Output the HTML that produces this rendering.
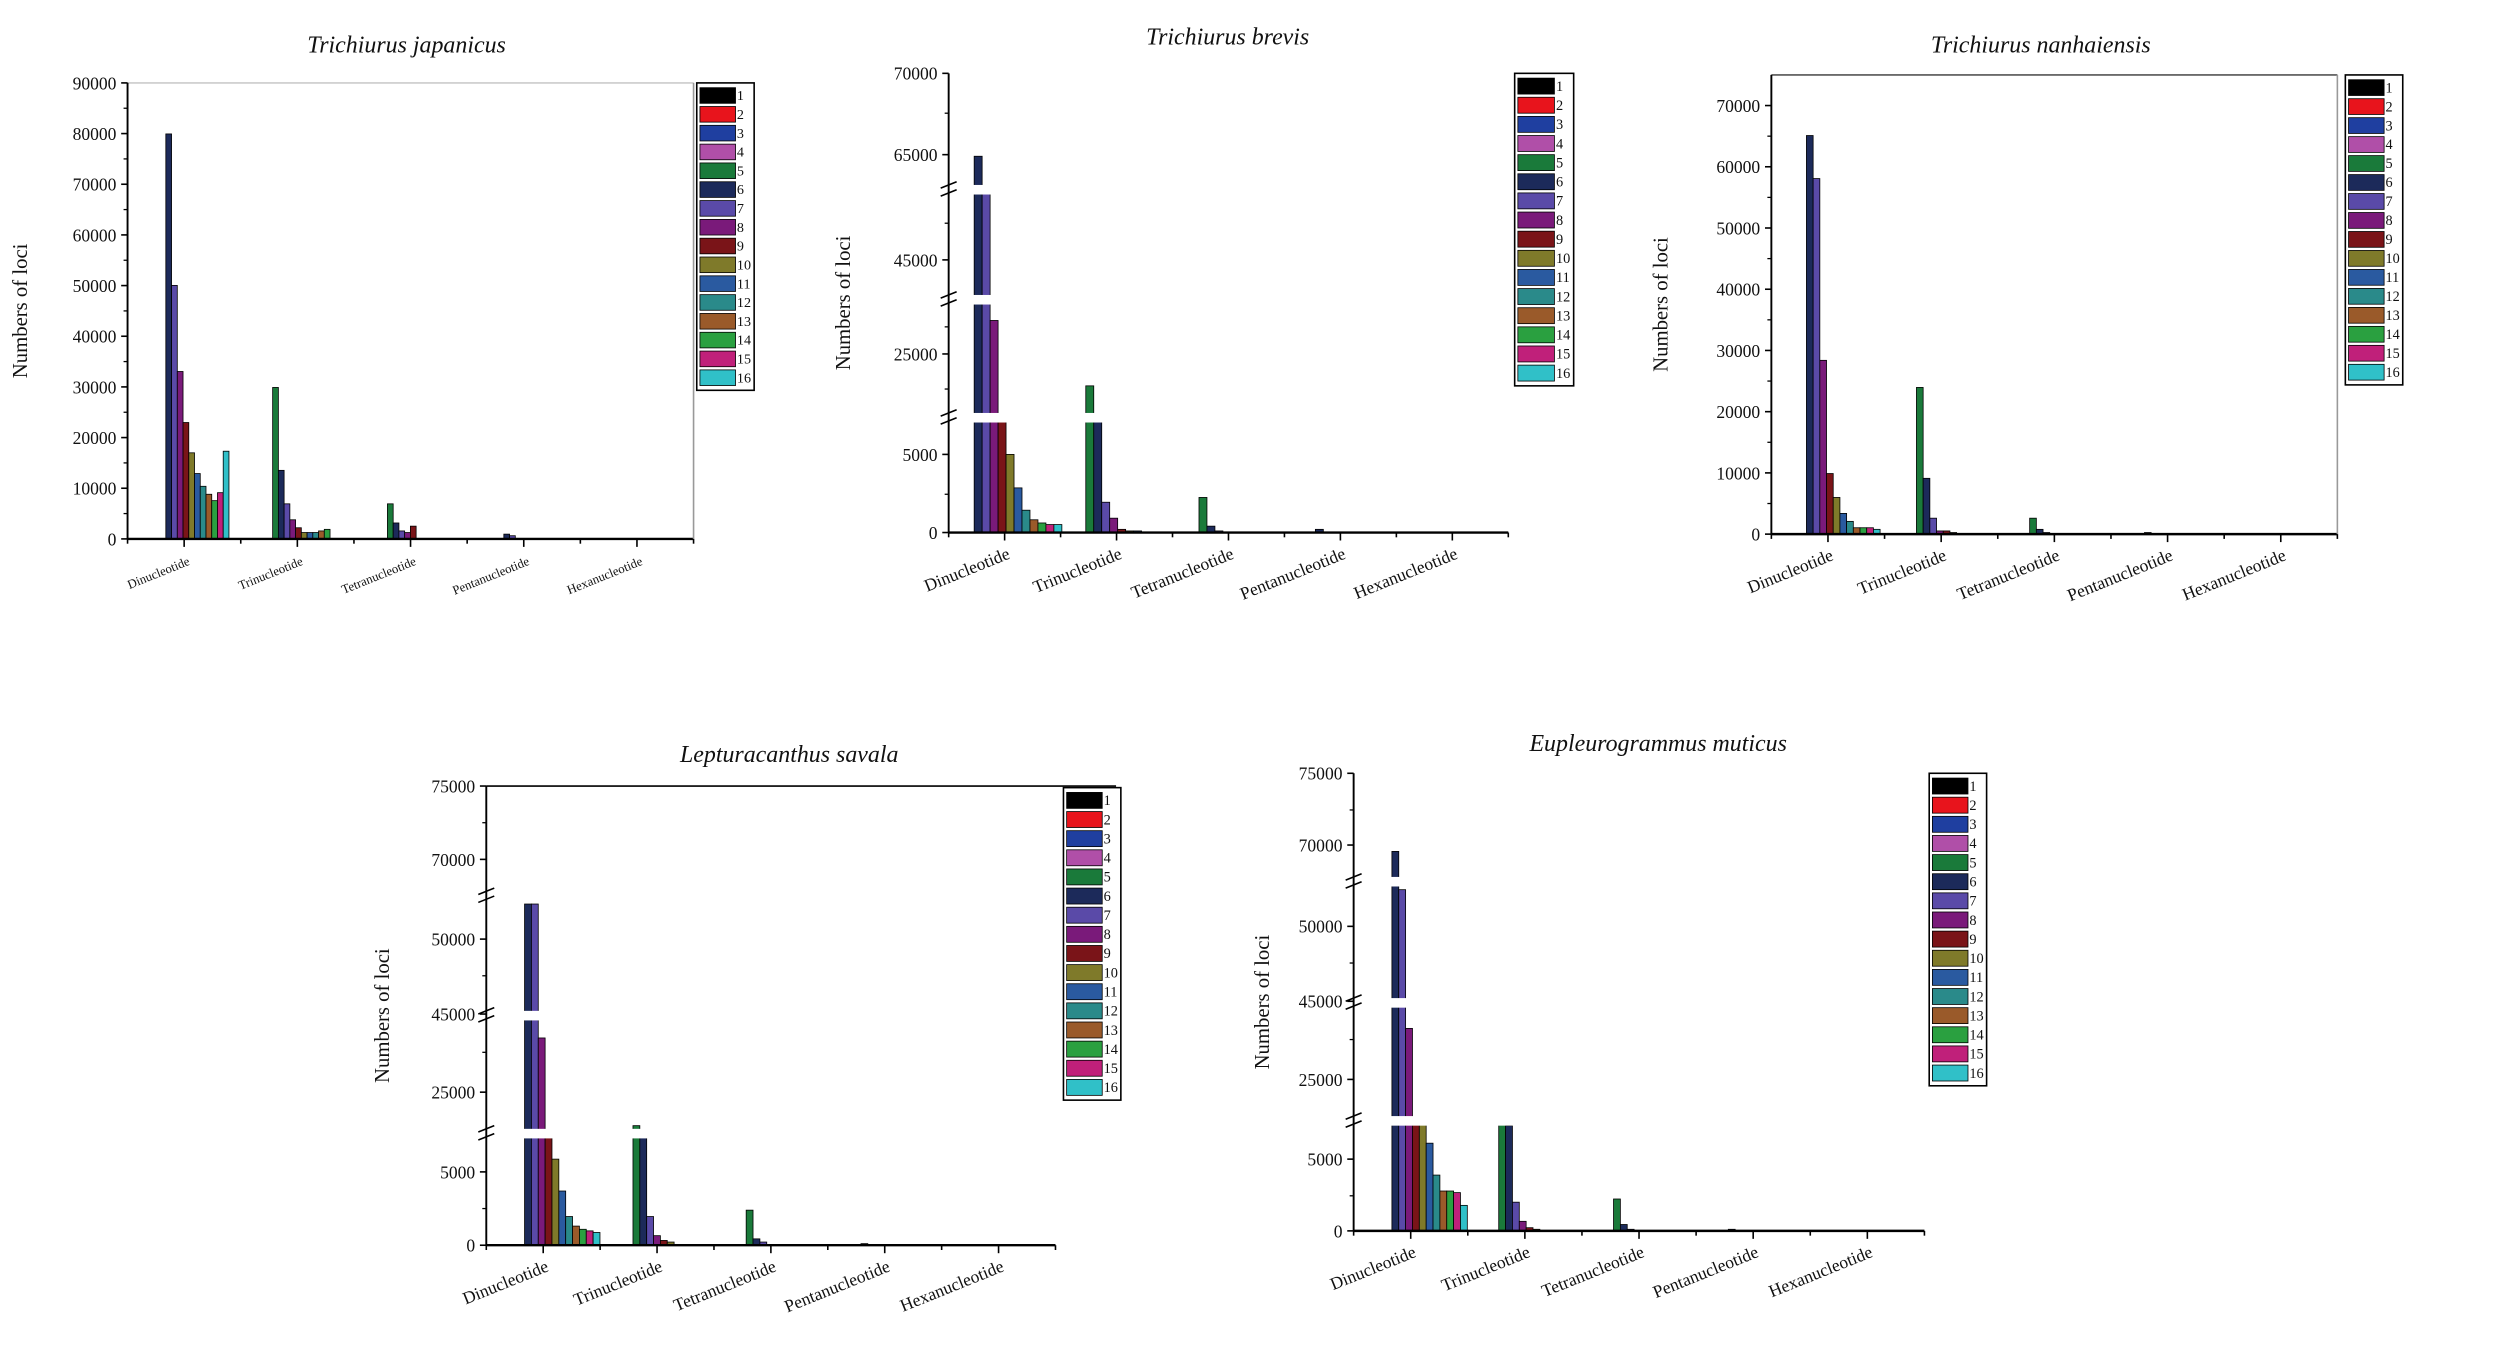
<!DOCTYPE html>
<html><head><meta charset="utf-8"><style>
html,body{margin:0;padding:0;background:#fff;width:2500px;height:1368px;overflow:hidden}
svg text{font-family:"Liberation Serif",serif;fill:#111}
</style></head><body>
<svg id="s" width="2500" height="1368" viewBox="0 0 1568 858" preserveAspectRatio="none" xmlns="http://www.w3.org/2000/svg"></svg>
<script>
var C=["#000","#e8141c","#1f3fa0","#b04fa8","#1a7a3a","#1c2a5a","#5a4aa8","#7a1a7a","#7a1418","#7f7a2a","#2a5aa0","#2a8a8a","#9a5a2a","#2aa040","#c0207a","#30c0c8"];
var o="";
function R(x,y,w,h,f,st){o+='<rect x="'+x+'" y="'+y+'" width="'+w+'" height="'+h+'" fill="'+f+'"'+(st?' stroke="#000" stroke-width="0.5"':'')+'/>';}
function L(a,b,c,d,w,col){o+='<line x1="'+a+'" y1="'+b+'" x2="'+c+'" y2="'+d+'" stroke="'+(col||"#000")+'" stroke-width="'+(w||1)+'"/>';}
function T(x,y,t,sz,ex){o+='<text x="'+x+'" y="'+y+'" font-size="'+sz+'" '+(ex||'')+'>'+t+'</text>';}
var cats=["Dinucleotide","Trinucleotide","Tetranucleotide","Pentanucleotide","Hexanucleotide"];
function chart(c){
 var x0=c.x0,x1=c.x1,y0=c.y0,y1=c.y1;
 T(c.tx,c.ty,c.title,c.ts,'font-style="italic" text-anchor="middle"');
 if(c.top)L(x0,y0,c.top,y0,1,c.topc||"#000");
 c.groups.forEach(function(g){
  g.v.forEach(function(t,i){var si=g.s+i;R(g.x+i*c.bw,t,c.bw,y1-t,C[si],1);});
 });
 (c.brk||[]).forEach(function(b){R(x0-6,b-3,x1-x0,6,"#fff");
   o+='<path d="M'+(x0-5)+' '+(b-1)+' l10 -4 M'+(x0-5)+' '+(b+4)+' l10 -4" stroke="#000" stroke-width="1" fill="none"/>';});
 L(x0,y0,x0,y1,1.2);L(x0,y1,x1,y1,1.5);
 if(c.right)L(x1,y0,x1,y1,1,"#999");
 c.yt.forEach(function(t){L(x0-4,t[0],x0,t[0],1);T(x0-7,t[0]+4,t[1],c.fs,'text-anchor="end"');});
 (c.ym||[]).forEach(function(y){L(x0-2.5,y,x0,y,0.8);});
 var sp=(x1-x0)/5;
 for(var i=0;i<=10;i++){var xx=x0+i*sp/2;L(xx,y1,xx,y1+(i%2?5:3),1);}
 cats.forEach(function(n,i){var xx=x0+sp*(i+0.5);
  T(xx+4,y1+16,n,c.cs,'text-anchor="end" transform="rotate(-22 '+(xx+4)+' '+(y1+16)+')"');});
 T(c.ylx,(y0+y1)/2,"Numbers of loci",c.ys,'text-anchor="middle" transform="rotate(-90 '+c.ylx+' '+((y0+y1)/2)+')"');
 var lx=c.lx,ly=c.ly,lh=c.lh;
 o+='<rect x="'+lx+'" y="'+ly+'" width="'+c.lw+'" height="'+(lh*16+4)+'" fill="#fff" stroke="#000" stroke-width="1"/>';
 for(var k=0;k<16;k++){R(lx+2,ly+2+k*lh+1,c.lw*0.62,lh-2,C[k],1);T(lx+c.lw*0.7,ly+2+k*lh+lh-3,k+1,lh*0.75);}
}
var yt1=[];for(var i=0;i<=9;i++)yt1.push([338-i*286/9,(i*10000)+""]);
var ym1=[];for(var i=0;i<9;i++)ym1.push(338-(i+0.5)*286/9);
chart({x0:80,x1:435,y0:52,y1:338,title:"Trichiurus japanicus",tx:255,ty:33,ts:15,fs:11,cs:8,ys:13,ylx:17,
 top:435,topc:"#ccc",right:1,bw:3.6,yt:yt1,ym:ym1,lx:437,ly:52,lw:36,lh:11.8,
 groups:[{x:104,s:5,v:[84,179,233,265,284,297,305,310,314,309,283]},
 {x:171,s:4,v:[243,295,316,326,331,334,334,334,333,332]},
 {x:243,s:4,v:[316,328,333,334,330]},{x:316,s:5,v:[335,336]}]});
chart({x0:595,x1:946,y0:46,y1:334,title:"Trichiurus brevis",tx:770,ty:28,ts:15,fs:11,cs:11,ys:13,ylx:533,
 bw:5,yt:[[46,"70000"],[97,"65000"],[163,"45000"],[222,"25000"],[285,"5000"],[334,"0"]],
 ym:[71,140,205,244,310],brk:[119,188,262],lx:950,ly:46,lw:37,lh:12,
 groups:[{x:611,s:5,v:[98,119,201,262,285,306,320,326,328,329,329]},
 {x:681,s:4,v:[242,262,315,325,332,333,333]},{x:752,s:4,v:[312,330,333]},{x:825,s:5,v:[332]}]});
var yt3=[];for(var i=0;i<=7;i++)yt3.push([335-i*38.4,(i*10000)+""]);
var ym3=[];for(var i=0;i<7;i++)ym3.push(335-(i+0.5)*38.4);
chart({x0:1111,x1:1466,y0:47,y1:335,title:"Trichiurus nanhaiensis",tx:1280,ty:33,ts:15,fs:11,cs:11,ys:13,ylx:1046,
 right:1,top:1466,topc:"#555",bw:4.2,yt:yt3,ym:ym3,lx:1471,ly:47,lw:36,lh:11.9,
 groups:[{x:1133,s:5,v:[85,112,226,297,312,322,327,331,331,331,332]},
 {x:1202,s:4,v:[243,300,325,333,333,334]},{x:1273,s:4,v:[325,332,334]},{x:1345,s:5,v:[334]}]});
chart({x0:305,x1:662,y0:493,y1:781,title:"Lepturacanthus savala",tx:495,ty:478,ts:15,fs:11,cs:11,ys:13,ylx:244,
 top:700,bw:4.3,yt:[[493,"75000"],[539,"70000"],[589,"50000"],[636,"45000"],[685,"25000"],[735,"5000"],[781,"0"]],
 ym:[516,612,660,758],brk:[562,637,711],lx:667,ly:494,lw:36,lh:12,
 groups:[{x:329,s:5,v:[567,567,651,712,727,747,763,769,771,772,773]},
 {x:397,s:4,v:[706,712,763,775,778,779]},{x:468,s:4,v:[759,777,779]},{x:540,s:5,v:[780]}]});
chart({x0:849,x1:1207,y0:485,y1:772,title:"Eupleurogrammus muticus",tx:1040,ty:471,ts:15,fs:11,cs:11,ys:13,ylx:796,
 bw:4.3,yt:[[485,"75000"],[530,"70000"],[581,"50000"],[628,"45000"],[677,"25000"],[727,"5000"],[772,"0"]],
 ym:[508,604,652,750],brk:[553,629,703],lx:1210,ly:485,lw:36,lh:12,
 groups:[{x:873,s:5,v:[534,558,645,703,703,717,737,747,747,748,756]},
 {x:940,s:4,v:[704,706,754,766,770,771]},{x:1012,s:4,v:[752,768,771]},{x:1084,s:5,v:[771]}]});
document.getElementById("s").innerHTML=o;
</script>
</body></html>
